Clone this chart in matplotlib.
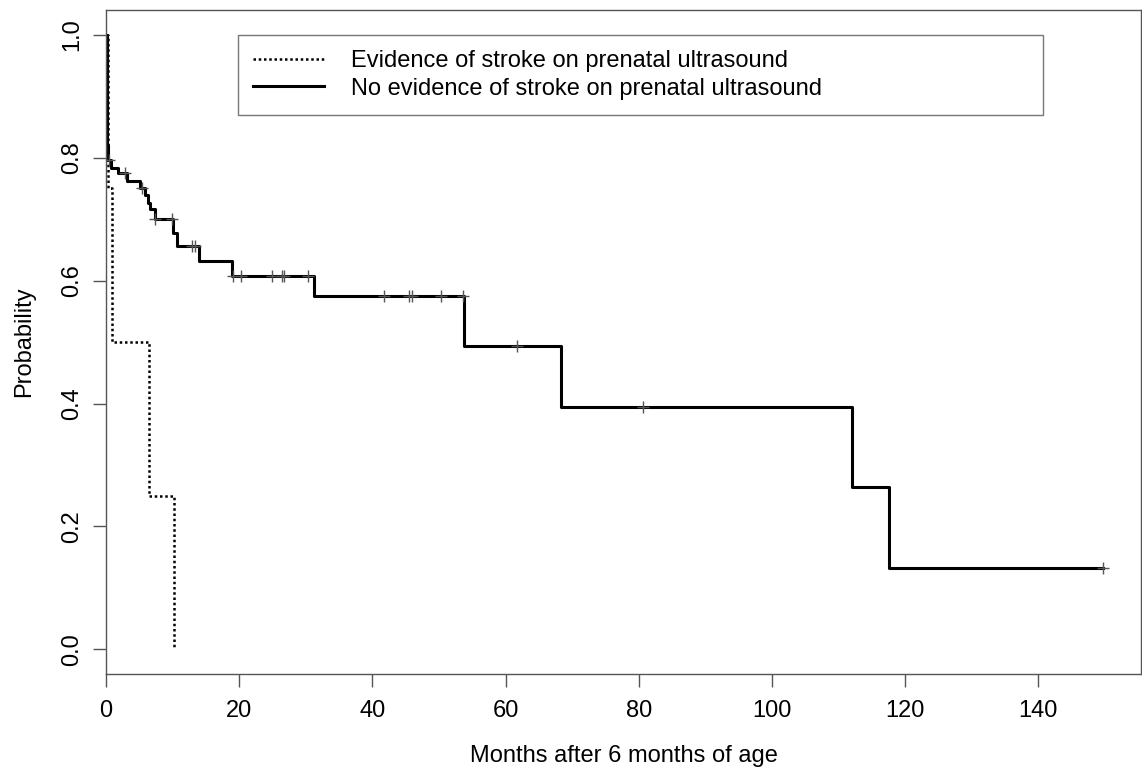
import numpy as np
import matplotlib.pyplot as plt

plt.rcParams['font.family'] = ['Liberation Sans', 'DejaVu Sans']

# Kaplan-Meier step data
no_stroke_t = [0, 0.1, 0.2, 0.25, 0.3, 0.75, 1.85, 3.1, 5.1, 5.85, 6.3, 6.6, 7.3,
               10.1, 10.6, 13.9, 18.9, 31.3, 53.8, 68.3, 112.0, 117.6, 149.7]
no_stroke_s = [1.0, 0.84, 0.82, 0.81, 0.797, 0.784, 0.775, 0.762, 0.751, 0.74, 0.727,
               0.716, 0.70, 0.678, 0.656, 0.632, 0.608, 0.575, 0.493, 0.395, 0.264,
               0.132, 0.132]
no_stroke_cens = [0.5, 2.9, 5.4, 7.4, 9.9, 12.9, 13.3, 19.1, 20.3, 24.9, 26.4, 26.7,
                  30.4, 41.7, 45.5, 46.0, 50.3, 53.6, 61.7, 80.6, 149.7]

stroke_t = [0, 0.25, 0.85, 6.45, 10.2]
stroke_s = [1.0, 0.75, 0.5, 0.25, 0.0]

labels = ["Evidence of stroke on prenatal ultrasound",
          "No evidence of stroke on prenatal ultrasound"]


def step_value(times, surv, t):
    i = np.searchsorted(times, t, side='right') - 1
    return np.asarray(surv)[i]


def main():
    fig = plt.figure(figsize=(11.42, 7.81), dpi=100)
    ax = fig.add_axes([0.0928, 0.137, 0.9063, 0.850])

    l1, = ax.step(stroke_t, stroke_s, where='post', color='black', lw=1.8,
                  linestyle=(0, (1, 1.1)))
    l2, = ax.step(no_stroke_t, no_stroke_s, where='post', color='black', lw=2.2)

    cy = [step_value(no_stroke_t, no_stroke_s, t) for t in no_stroke_cens]
    ax.plot(no_stroke_cens, cy, linestyle='none', marker='+', ms=9, mew=1.0,
            color='#555555')

    ax.set_xlim(0, 155.4)
    ax.set_ylim(-0.04, 1.04)
    ax.set_xticks(np.arange(0, 141, 20))
    ax.set_yticks(np.arange(0, 1.01, 0.2))
    ax.set_yticklabels([f"{v:.1f}" for v in np.arange(0, 1.01, 0.2)],
                       rotation=90, va='center')
    ax.tick_params(labelsize=17, length=9.5, width=1, color='#555555')
    ax.tick_params(axis='x', pad=9)
    ax.tick_params(axis='y', pad=7)
    for s in ax.spines.values():
        s.set_color('#555555')
        s.set_linewidth(1)

    ax.set_xlabel("Months after 6 months of age", fontsize=17, labelpad=17)
    ax.set_ylabel("Probability", fontsize=17, labelpad=19)

    leg = ax.legend([l1, l2], labels, loc='upper left',
                    bbox_to_anchor=(0.1275, 0.0, 0.778, 0.9625), mode='expand',
                    fontsize=17, frameon=True, fancybox=False, handlelength=3.0,
                    handletextpad=1.15, labelspacing=0.22, borderpad=0.65,
                    borderaxespad=0)
    leg.get_frame().set_edgecolor('#555555')
    leg.get_frame().set_linewidth(1)

    fig.savefig("out.png", dpi=100)


if __name__ == "__main__":
    main()
